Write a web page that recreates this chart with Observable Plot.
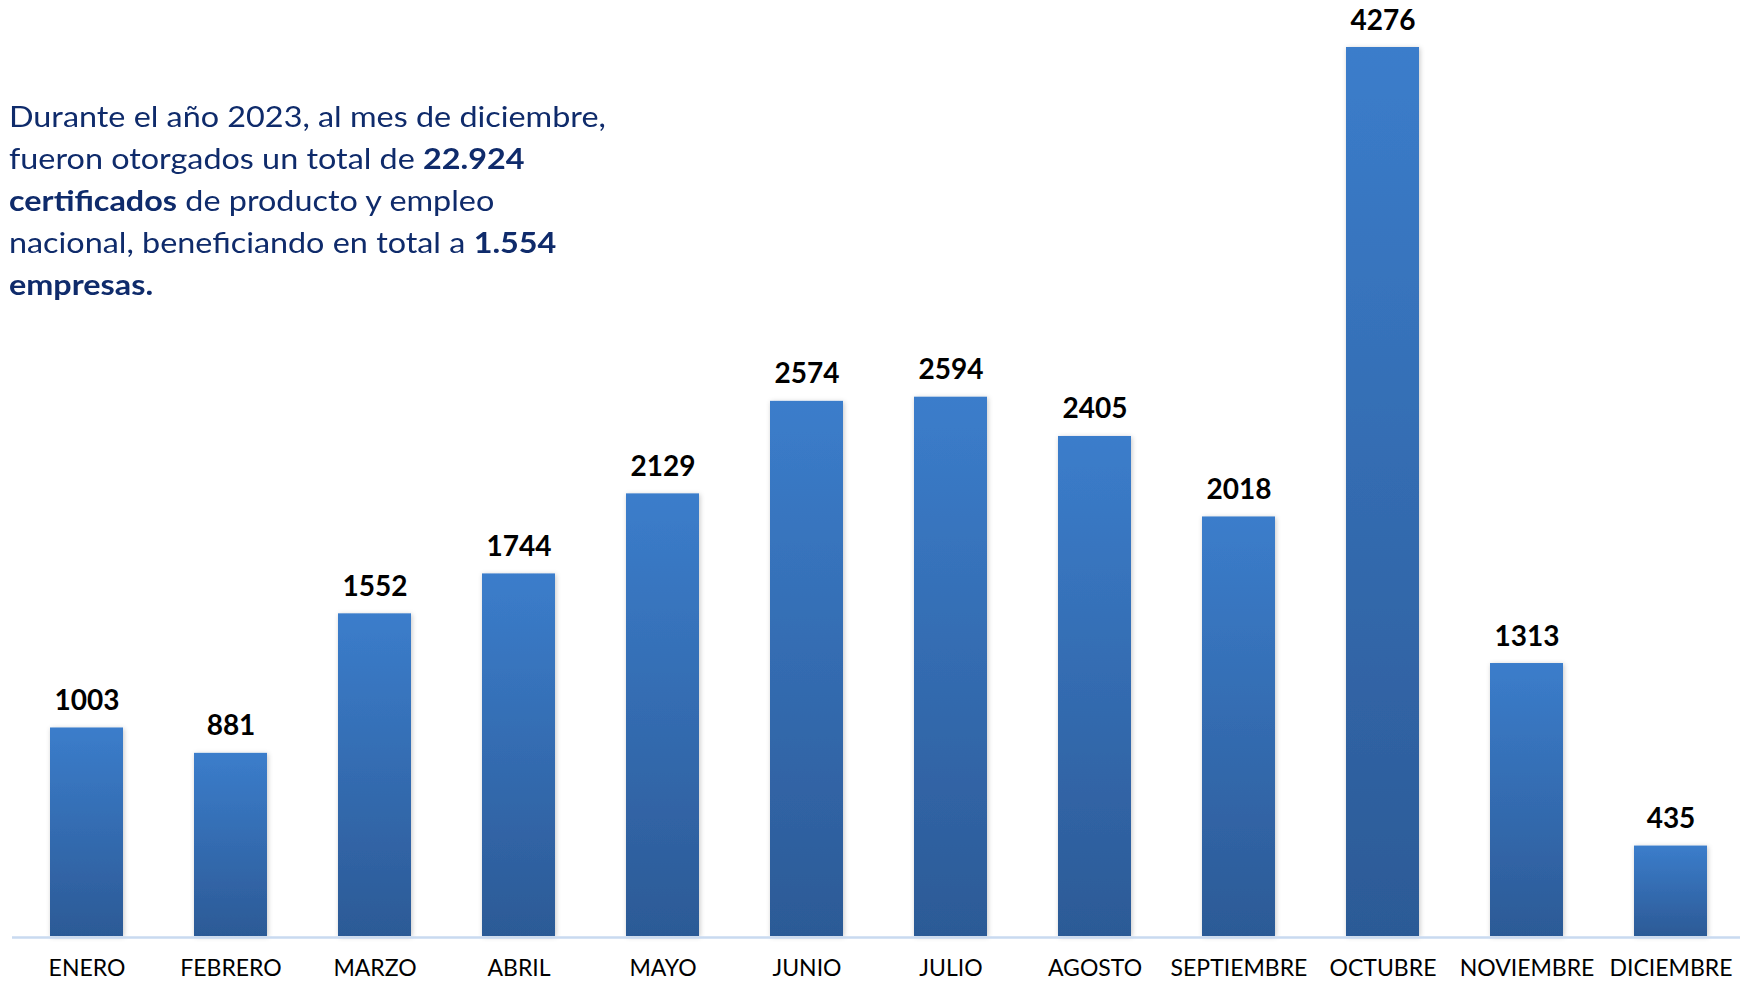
<!DOCTYPE html>
<html>
<head>
<meta charset="utf-8">
<script src="https://cdn.jsdelivr.net/npm/d3@7"></script>
<script src="https://cdn.jsdelivr.net/npm/@observablehq/plot@0.6"></script>
<style>
  html, body { margin: 0; padding: 0; background: #fff; }
  #wrap { position: relative; width: 1740px; height: 983px; overflow: hidden; }
  #note {
    position: absolute; left: 9px; top: 95px;
    font-family: Lato, "Open Sans", sans-serif; font-size: 28px; line-height: 42px;
    color: #0f2b6b; white-space: nowrap;
    transform: scaleX(1.155); transform-origin: 0 0;
  }
  #note b { font-weight: 700; }
</style>
</head>
<body>
<div id="wrap">
  <div id="chart"></div>
  <div id="note">
    Durante el año 2023, al mes de diciembre,<br>
    fueron otorgados un total de <b>22.924</b><br>
    <b>certificados</b> de producto y empleo<br>
    nacional, beneficiando en total a <b>1.554</b><br>
    <b>empresas.</b>
  </div>
</div>
<script>
const months = ["ENERO","FEBRERO","MARZO","ABRIL","MAYO","JUNIO","JULIO","AGOSTO","SEPTIEMBRE","OCTUBRE","NOVIEMBRE","DICIEMBRE"];
const certificados = [1003, 881, 1552, 1744, 2129, 2574, 2594, 2405, 2018, 4276, 1313, 435];

const data = months.map((m, i) => ({month: m, value: certificados[i]}));

const chart = Plot.plot({
  width: 1740,
  height: 983,
  marginLeft: 12,
  marginRight: 0,
  marginTop: 47,
  marginBottom: 47,
  style: {fontFamily: "Lato, 'Open Sans', sans-serif", background: "#fff", overflow: "visible"},
  x: {domain: months, range: [11.75, 1745.75], paddingInner: 0.49, paddingOuter: 0.245, label: null},
  y: {domain: [0, 4276], axis: null},
  marks: [
    Plot.barY(data, {x: "month", y: "value", fill: "url(#barGrad)", className: "bars"}),
    Plot.ruleY([0], {stroke: "#c9daf0", strokeWidth: 2.5, dy: 1}),
    Plot.text(data, {x: "month", y: "value", text: d => String(d.value), dy: -18, lineAnchor: "bottom",
      fontSize: 28, fontWeight: 700, fill: "#000"}),
    Plot.axisX({tickSize: 0, tickPadding: 23, fontSize: 23, fill: "#000", color: "#000", label: null})
  ]
});

const svg = d3.select(chart);
const defs = svg.insert("defs", ":first-child");
const g = defs.append("linearGradient").attr("id", "barGrad").attr("x1", 0).attr("y1", 0).attr("x2", 0).attr("y2", 1);
g.append("stop").attr("offset", "0%").attr("stop-color", "#3b7dcb");
g.append("stop").attr("offset", "100%").attr("stop-color", "#2c5a96");
const f = defs.append("filter").attr("id", "shadow").attr("x", "-30%").attr("y", "-10%").attr("width", "160%").attr("height", "120%");
f.append("feDropShadow").attr("dx", 1).attr("dy", 1).attr("stdDeviation", 2.5).attr("flood-color", "#000").attr("flood-opacity", 0.22);
svg.selectAll("g.bars rect, .bars rect").attr("filter", "url(#shadow)");

document.getElementById("chart").appendChild(chart);
</script>
</body>
</html>
